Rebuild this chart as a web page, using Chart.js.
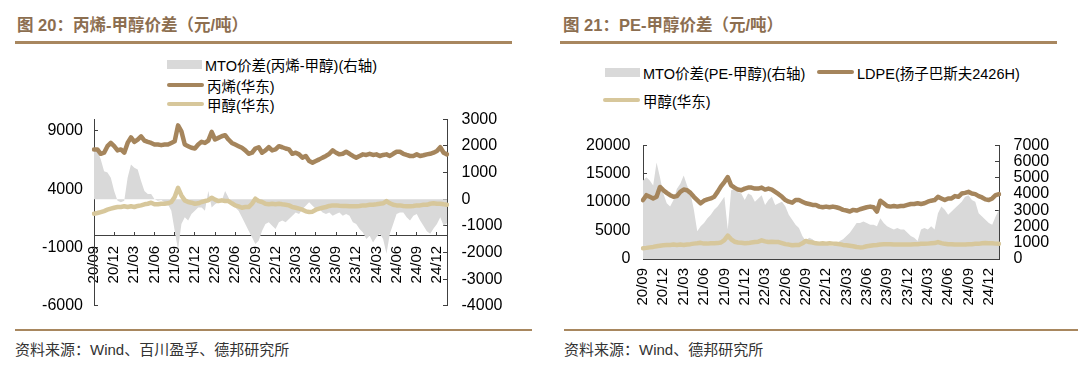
<!DOCTYPE html>
<html>
<head>
<meta charset="utf-8">
<script src="https://cdn.jsdelivr.net/npm/chart.js@4.4.1/dist/chart.umd.min.js"></script>
<style>
  body { margin: 0; width: 1080px; height: 373px; position: relative; overflow: hidden; background: #fff;
         font-family: 'Liberation Sans', 'Noto Sans CJK SC', sans-serif; }
  .title { position: absolute; top: 15px; font-size: 16.5px; font-weight: bold; color: #8c6e50; line-height: 20px; white-space: nowrap; }
  .rule { position: absolute; background: #a8875f; }
  .source { position: absolute; top: 341px; font-size: 15px; color: #333; line-height: 18px; white-space: nowrap; }
  .lg { position: absolute; display: flex; align-items: center; font-size: 14.5px; color: #000; white-space: nowrap; height: 18px; }
  .lg .box { width: 35px; height: 9px; margin-right: 3px; }
  .lg .ln { width: 37px; height: 4px; border-radius: 2px; margin-right: 3px; }
  canvas { position: absolute; }
</style>
</head>
<body>
<div class="title" style="left:17px">图 20：丙烯-甲醇价差（元/吨）</div>
<div class="rule" style="left:15px; top:41px; width:497px; height:3px"></div>
<div class="title" style="left:563px">图 21：PE-甲醇价差（元/吨）</div>
<div class="rule" style="left:560px; top:41px; width:497px; height:3px"></div>

<div id="legend1"></div>
<div id="legend2"></div>

<canvas id="chart1" width="540" height="243" style="left:0; top:91px"></canvas>
<canvas id="chart2" width="540" height="203" style="left:540px; top:117px"></canvas>

<div class="rule" style="left:15px; top:329px; width:517px; height:2px"></div>
<div class="rule" style="left:564px; top:329px; width:514px; height:2px"></div>
<div class="source" style="left:15px">资料来源：Wind、百川盈孚、德邦研究所</div>
<div class="source" style="left:564px">资料来源：Wind、德邦研究所</div>

<script>
// Half-month sampling, Sep 2020 .. Jan 2025
const months = ['20/09','20/10','20/11','20/12','21/01','21/02','21/03','21/04','21/05','21/06','21/07','21/08',
  '21/09','21/10','21/11','21/12','22/01','22/02','22/03','22/04','22/05','22/06','22/07','22/08',
  '22/09','22/10','22/11','22/12','23/01','23/02','23/03','23/04','23/05','23/06','23/07','23/08',
  '23/09','23/10','23/11','23/12','24/01','24/02','24/03','24/04','24/05','24/06','24/07','24/08',
  '24/09','24/10','24/11','24/12','25/01'];
const categories = months.flatMap(m => [m, m]);
const tickLabels = ['20/09','20/12','21/03','21/06','21/09','21/12','22/03','22/06','22/09','22/12',
  '23/03','23/06','23/09','23/12','24/03','24/06','24/09','24/12'];

// Chart 1: 丙烯-甲醇
const names1 = ['MTO价差(丙烯-甲醇)(右轴)', '丙烯(华东)', '甲醇(华东)'];
const propylene = [7400,7400,7030,7120,7680,7960,7680,7320,7400,7120,
  7960,8440,8050,8250,8530,8160,8050,7960,7820,7820,
  7770,7820,7820,7960,8100,9460,8950,7820,7680,7540,
  7480,7820,8050,7960,8160,8900,8250,8390,8530,8620,
  8250,7960,7820,7680,7540,7320,7030,7120,7480,7590,
  7120,7320,7590,7320,7400,7680,7590,7480,7400,7030,
  7120,6980,6700,6840,6410,6270,6410,6550,6700,6840,
  7030,7320,7120,6980,7030,7200,7030,6840,6700,6840,
  6980,6930,7030,6930,6980,6840,6930,6980,6840,7030,
  7200,7200,7030,6930,6840,6840,6980,6840,6900,6980,
  7030,7120,7260,7590,7120,6980];
const methanol = [1900,1955,2040,2125,2240,2330,2410,2470,2470,2530,
  2470,2530,2470,2560,2610,2700,2750,2840,2700,2700,
  2750,2750,2790,2900,3320,4110,3460,3040,2900,2840,
  2750,2790,2900,2980,3040,3270,3100,2980,3040,2980,
  2980,2790,2610,2530,2410,2470,2470,2750,3180,2980,
  2900,2750,2700,2750,2700,2750,2700,2660,2610,2470,
  2410,2330,2240,2100,2040,2070,2240,2330,2410,2470,
  2560,2610,2610,2580,2560,2560,2530,2530,2530,2560,
  2610,2610,2660,2660,2700,2750,2790,2980,2790,2660,
  2610,2610,2560,2530,2530,2560,2610,2610,2660,2660,
  2750,2790,2750,2750,2700,2660];
const mtoSpreadC3 = [1860,1800,1500,1050,1000,800,310,-60,-120,-60,
  800,1300,1180,1110,680,310,190,190,0,-60,
  -30,-120,-190,-435,-1180,-1900,-930,-680,-800,-560,
  -435,-310,-310,-435,310,-310,-190,-120,-60,310,
  60,-250,-310,-435,-680,-930,-1180,-1430,-1680,-1550,
  -1180,-930,-870,-1000,-1120,-870,-800,-870,-740,-620,
  -500,-560,-370,-250,-120,-250,-370,-370,-500,-560,
  -500,-620,-560,-500,-620,-560,-620,-870,-930,-1120,
  -1250,-1490,-1370,-1620,-1430,-1300,-1490,-2050,-1300,-930,
  -560,-500,-500,-680,-800,-620,-560,-800,-1000,-1200,
  -1300,-1100,-930,-680,-1000,-900];
const leftTicks1 = [-6000, -1000, 4000, 9000];

// Chart 2: PE-甲醇
const names2 = ['MTO价差(PE-甲醇)(右轴)', 'LDPE(扬子巴斯夫2426H)', '甲醇(华东)'];
const ldpe = [10350,11210,10925,10640,10925,12650,12075,11615,11210,10925,
  11040,11790,12190,12075,11615,10925,10350,9775,10235,10465,
  10640,10925,11790,12765,13510,14375,12940,12535,12190,12075,
  12360,12535,12535,12360,12360,12535,12190,12360,12190,11790,
  11385,10925,10350,10060,9890,10350,10350,10060,9775,9660,
  9490,9490,9200,9085,9200,9085,9200,9085,8910,8625,
  8510,8340,8625,8510,8740,8910,9085,9200,9085,8340,
  10235,9775,9315,9200,9315,9200,9315,9315,9490,9660,
  9660,9775,9660,9775,10060,10235,10350,10925,10640,10350,
  10640,10640,11040,10925,11500,11615,11790,11500,11385,11040,
  10810,10465,10350,10640,11210,11385];
const mtoSpreadPE = [4830,5030,4830,4520,5930,5030,4020,3420,3220,3620,
  4320,4630,5130,4520,4020,3020,1710,2010,2210,2510,
  2715,3020,3220,3520,3820,1810,4220,4320,4120,4020,
  3620,4020,3920,3520,3720,3920,3320,3620,3820,3320,
  3420,3520,3220,2715,2410,2110,1910,1410,1100,1310,
  1210,1005,905,1005,905,805,805,905,1100,1210,
  1410,1610,1910,2210,2210,2310,2210,2110,2110,2010,
  2510,2210,2010,1910,1810,1910,1810,1810,1610,1410,
  1310,1100,1810,1910,1810,2010,1810,2815,3220,3020,
  2715,2915,3120,3320,3520,3820,3920,3620,3520,2815,
  2615,2410,2210,2110,2615,3020];

const GRAY = '#d9d9d9';
const BROWN = '#a5855c';
const TAN = '#d7c79b';
const AXIS = '#404040';

Chart.defaults.font.family = "'Liberation Sans', 'Noto Sans CJK SC', sans-serif";
Chart.defaults.font.size = 15;
Chart.defaults.color = '#000';

function xAxis(position, padding, height) {
  return {
    type: 'category',
    position: position,
    z: 1,
    grid: { drawOnChartArea: false, tickLength: -4, color: AXIS },
    border: { color: AXIS, width: 1 },
    ticks: { autoSkip: false, minRotation: 90, maxRotation: 90, padding: padding,
             font: { size: 15 }, callback: (v) => categories[v] },
    afterBuildTicks: (s) => {
      s.ticks = s.ticks.filter(t => t.value % 2 === 0 && tickLabels.includes(categories[t.value]));
    },
    afterFit: (s) => { if (height) s.height = height; }
  };
}

function yAxis(position, min, max, step, width, padding, fixedTicks) {
  return {
    position: position,
    min: min, max: max,
    grid: { drawOnChartArea: false, tickLength: -4, color: AXIS },
    border: { color: AXIS, width: 1 },
    ticks: { stepSize: step, padding: padding, autoSkip: false, font: { size: 16 },
             callback: (v) => String(v) },
    afterBuildTicks: (s) => { if (fixedTicks) s.ticks = fixedTicks.map(v => ({ value: v })); },
    afterFit: (s) => { s.width = width; }
  };
}

function lineSet(label, data, axis, color, order) {
  return { label: label, data: data, yAxisID: axis, borderColor: color, borderWidth: 4.5,
           pointRadius: 0, fill: false, order: order, borderJoinStyle: 'round', borderCapStyle: 'round' };
}

function areaSet(label, data, axis) {
  return { label: label, data: data, yAxisID: axis, backgroundColor: GRAY, borderWidth: 0,
           pointRadius: 0, fill: 'origin', order: 5 };
}

const baseOptions = {
  responsive: false,
  animation: false,
  plugins: { legend: { display: false }, tooltip: { enabled: false } }
};

new Chart(document.getElementById('chart1'), {
  type: 'line',
  data: {
    labels: categories,
    datasets: [
      areaSet(names1[0], mtoSpreadC3, 'yR'),
      lineSet(names1[1], propylene, 'yL', BROWN, 1),
      lineSet(names1[2], methanol, 'yL', TAN, 2)
    ]
  },
  options: {
    ...baseOptions,
    layout: { padding: 0 },
    scales: {
      x: xAxis({ yL: 0 }, 14, 0),
      yL: yAxis('left', -6000, 10000, 5000, 94, 15, leftTicks1),
      yR: yAxis('right', -4000, 3000, 1000, 93, 18.5, null)
    }
  }
});

new Chart(document.getElementById('chart2'), {
  type: 'line',
  data: {
    labels: categories,
    datasets: [
      areaSet(names2[0], mtoSpreadPE, 'yR'),
      lineSet(names2[1], ldpe, 'yL', BROWN, 1),
      lineSet(names2[2], methanol, 'yL', TAN, 2)
    ]
  },
  options: {
    ...baseOptions,
    layout: { padding: 0 },
    scales: {
      x: xAxis('bottom', 13, 61),
      yL: yAxis('left', 0, 20000, 5000, 103, 16.5, null),
      yR: yAxis('right', 0, 7000, 1000, 81, 18.5, null)
    }
  }
});

// HTML legends
function legendItem(parent, left, top, kind, color, text) {
  const item = document.createElement('div');
  item.className = 'lg';
  item.style.left = left + 'px';
  item.style.top = top + 'px';
  const sw = document.createElement('span');
  sw.className = kind;
  sw.style.background = color;
  const tx = document.createElement('span');
  tx.textContent = text;
  item.appendChild(sw);
  item.appendChild(tx);
  parent.appendChild(item);
}

const lg1 = document.getElementById('legend1');
legendItem(lg1, 167, 55, 'box', GRAY, names1[0]);
legendItem(lg1, 167, 76, 'ln', BROWN, names1[1]);
legendItem(lg1, 167, 95, 'ln', TAN, names1[2]);

const lg2 = document.getElementById('legend2');
legendItem(lg2, 605, 63, 'box', GRAY, names2[0]);
legendItem(lg2, 817, 63, 'ln', BROWN, names2[1]);
legendItem(lg2, 603, 91, 'ln', TAN, names2[2]);
</script>
</body>
</html>
